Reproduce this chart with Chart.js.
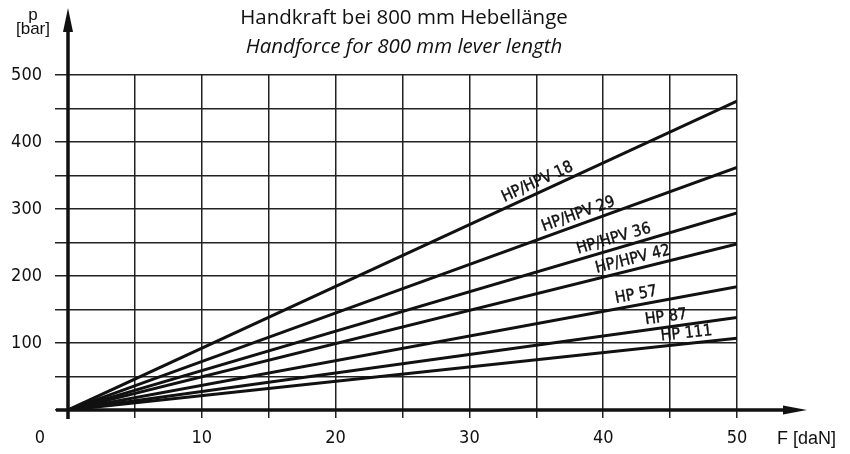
<!DOCTYPE html>
<html lang="de">
<head>
<meta charset="UTF-8">
<title>Handkraft bei 800 mm Hebellänge</title>
<script src="https://cdn.jsdelivr.net/npm/chart.js"></script>
<style>
  html, body { margin: 0; padding: 0; background: #fff; }
</style>
</head>
<body>
<canvas id="grafico" width="850" height="454"></canvas>
<script>
// Pumpentypen und Druck bei F = 50 daN (Geraden durch den Ursprung)
const pumpen = ['HP/HPV 18', 'HP/HPV 29', 'HP/HPV 36', 'HP/HPV 42', 'HP 57', 'HP 87', 'HP 111'];
const kraft = [0, 50];                                   // F [daN]
const druckEnde = [461, 362, 294, 248, 184, 138, 107];   // p [bar] bei F = 50 daN
const xLabels = [10, 20, 30, 40, 50];
const yLabels = [100, 200, 300, 400, 500];

const numFont = '"DejaVu Sans Condensed", "Liberation Sans Narrow", sans-serif';

// Lage der Beschriftung entlang der Geraden (in daN)
const labelAt = [35.4, 38.4, 41.0, 42.4, 42.6, 44.8, 46.3];

const datasets = pumpen.map((name, i) => ({
    label: name,
    data: kraft.map(f => ({ x: f, y: druckEnde[i] * f / 50 })),
    borderColor: '#111',
    borderWidth: 3,
    pointRadius: 0,
    fill: false
}));

const extras = {
    id: 'extras',
    afterDraw(chart) {
        const ctx = chart.ctx;
        const xs = chart.scales.x, ys = chart.scales.y;
        const ox = xs.getPixelForValue(0), oy = ys.getPixelForValue(0);

        ctx.save();
        ctx.fillStyle = '#111';
        ctx.strokeStyle = '#111';

        // Achsen mit Pfeilen
        ctx.lineWidth = 3.5;
        ctx.beginPath();
        ctx.moveTo(ox, oy + 9);
        ctx.lineTo(ox, 26);
        ctx.moveTo(ox - 12, oy);
        ctx.lineTo(790, oy);
        ctx.stroke();
        ctx.beginPath();
        ctx.moveTo(ox, 8); ctx.lineTo(ox - 5, 32); ctx.lineTo(ox + 5, 32); ctx.closePath();
        ctx.fill();
        ctx.beginPath();
        ctx.moveTo(807, oy); ctx.lineTo(783, oy - 4.5); ctx.lineTo(783, oy + 4.5); ctx.closePath();
        ctx.fill();

        // Beschriftung der Geraden
        ctx.font = '16px ' + numFont;
        ctx.textAlign = 'center';
        ctx.textBaseline = 'bottom';
        ctx.lineWidth = 0.4;
        pumpen.forEach((name, i) => {
            const x1 = xs.getPixelForValue(50), y1 = ys.getPixelForValue(druckEnde[i]);
            const ang = Math.atan2(y1 - oy, x1 - ox);
            const f = labelAt[i];
            const px = xs.getPixelForValue(f), py = ys.getPixelForValue(druckEnde[i] * f / 50);
            ctx.save();
            ctx.translate(px, py);
            ctx.rotate(ang);
            ctx.fillText(name, 0, -2);
            ctx.strokeText(name, 0, -2);
            ctx.restore();
        });

        // Achsentitel und Nullpunkt
        ctx.font = '18px ' + numFont;
        ctx.textBaseline = 'middle';
        ctx.textAlign = 'center';
        ctx.fillText('0', 40, 438);
        ctx.font = '18px "Liberation Sans", Arial, sans-serif';
        ctx.textAlign = 'left';
        ctx.fillText('F [daN]', 777, 439);
        ctx.font = '17px "Liberation Sans", Arial, sans-serif';
        ctx.textAlign = 'center';
        ctx.fillText('p', 33, 15);
        ctx.fillText('[bar]', 33, 29);

        // Titel
        ctx.font = '20.5px "Open Sans", sans-serif';
        ctx.fillText('Handkraft bei 800 mm Hebellänge', 404, 18);
        ctx.font = 'italic 20.5px "Open Sans", sans-serif';
        ctx.fillText('Handforce for 800 mm lever length', 404, 47);
        ctx.restore();
    }
};

new Chart(document.getElementById('grafico'), {
    type: 'line',
    data: { datasets: datasets },
    options: {
        responsive: false,
        animation: false,
        layout: { padding: { top: 75, right: 113, left: 0, bottom: 0 } },
        plugins: { legend: { display: false }, tooltip: { enabled: false } },
        scales: {
            x: {
                type: 'linear', min: 0, max: 50,
                ticks: {
                    stepSize: 5, autoSkip: false, maxRotation: 0, padding: 10,
                    color: '#111', font: { size: 18, family: numFont },
                    callback: v => xLabels.includes(v) ? String(v) : ''
                },
                grid: { color: '#222', lineWidth: 1.5, tickLength: 8 },
                border: { display: false },
                afterFit: s => { s.height = 44; }
            },
            y: {
                min: 0, max: 500,
                ticks: {
                    stepSize: 50, autoSkip: false, padding: 13,
                    color: '#111', font: { size: 18, family: numFont },
                    callback: v => yLabels.includes(v) ? String(v) : ''
                },
                grid: { color: '#222', lineWidth: 1.5, tickLength: 13 },
                border: { display: false },
                afterFit: s => { s.width = 68; }
            }
        }
    },
    plugins: [extras]
});
</script>
</body>
</html>
